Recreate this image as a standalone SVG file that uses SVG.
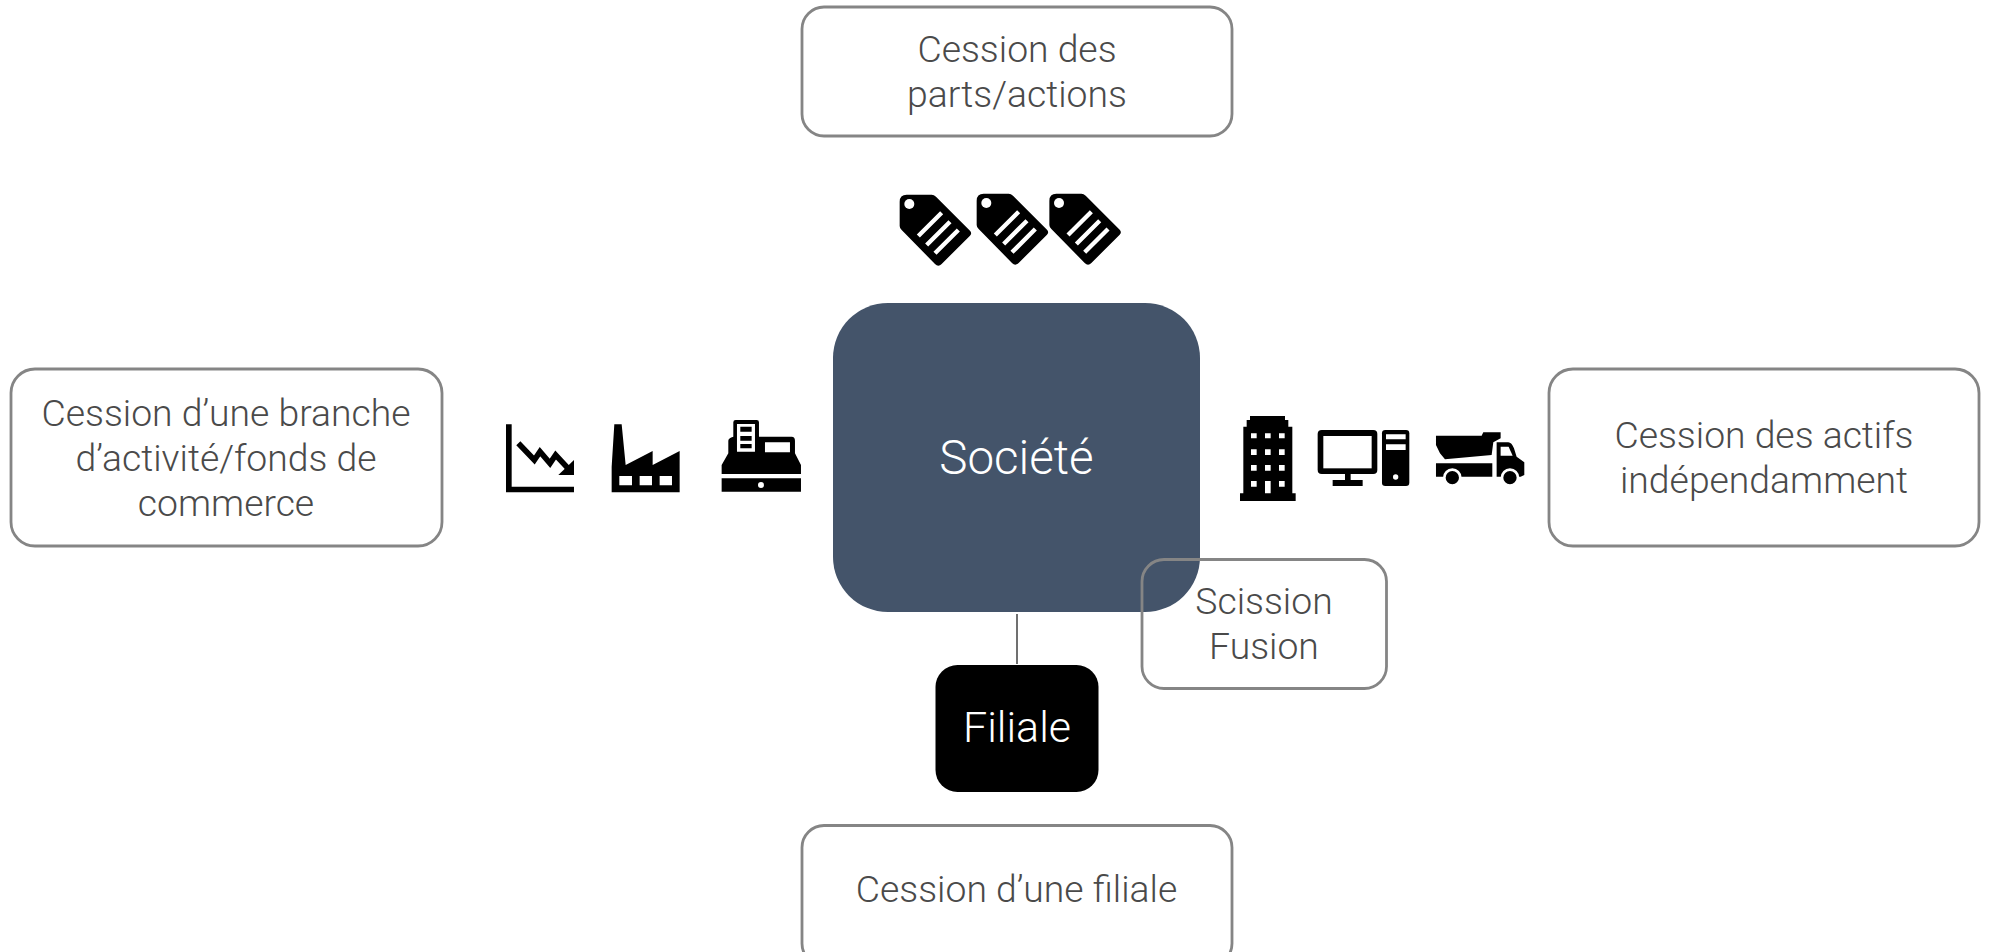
<svg xmlns="http://www.w3.org/2000/svg" width="1989" height="952" viewBox="0 0 1989 952">
<style>
text{font-family:Roboto,"Open Sans",sans-serif;font-weight:300;text-anchor:middle}
.b{fill:none;stroke:#858585;stroke-width:2.8}
.t{font-size:37.3px;fill:#4a4a4a}
.w{fill:#fff}
.k{fill:#000}
</style>
<defs>
<g id="tag"><path class="k" d="M80 44H155Q162 44 168 50L270 152Q277 160 270 167L185 252Q175 262 165 252L65 150Q59 145 59 138V65Q59 44 80 44Z"/><circle class="w" cx="88" cy="72" r="15"/><path d="M185 98L115 168M210 125L140 195M235 150L165 220" stroke="#fff" stroke-width="13" fill="none"/></g>
</defs>
<rect width="1989" height="952" fill="#fff"/>
<g id="connectors"><path d="M1017 614V664" stroke="#404040" stroke-width="1.5" fill="none"/></g>
<g id="societe"><rect x="833" y="303" width="367" height="309" rx="55" fill="#44546a"/><text x="1016.5" y="474" font-size="47.5" fill="#fff">Société</text></g>
<g id="top"><rect class="b" x="802" y="7" width="430" height="129" rx="22"/><text class="t" x="1017" y="62">Cession des</text><text class="t" x="1017" y="107">parts/actions</text></g>
<g id="left"><rect class="b" x="11" y="369" width="431" height="177" rx="24"/><text class="t" x="226" y="426">Cession d’une branche</text><text class="t" x="226" y="471">d’activité/fonds de</text><text class="t" x="226" y="516">commerce</text></g>
<g id="right"><rect class="b" x="1549" y="369" width="430" height="177" rx="24"/><text class="t" x="1764" y="448">Cession des actifs</text><text class="t" x="1764" y="493">indépendamment</text></g>
<g id="bottom"><rect class="b" x="802" y="825.5" width="430" height="140" rx="22"/><text class="t" x="1016.5" y="902">Cession d’une filiale</text></g>
<g id="scission"><rect class="b" x="1142" y="559.5" width="244.5" height="129" rx="22"/><text class="t" x="1264" y="614">Scission</text><text class="t" x="1264" y="659">Fusion</text></g>
<g id="filiale"><rect x="935.5" y="665" width="163" height="127" rx="22" class="k"/><text x="1017" y="742" font-size="43" fill="#fff">Filiale</text></g>
<g id="tags"><use href="#tag" transform="translate(880 180) scale(.3333)"/><use href="#tag" transform="translate(957 179) scale(.3333)"/><use href="#tag" transform="translate(1029.7 179) scale(.3333)"/></g>
<g id="icons-left" transform="translate(495 410) scale(.3333)">
<path class="k" d="M33 43H50V230H237V247H33Z"/>
<path d="M70 100L118 150L135 125L165 160L182 135L222 178" fill="none" stroke="#000" stroke-width="17"/>
<path class="k" d="M237 150V195H190Z"/>
<path class="k" d="M350 247V170L358 43H380L392 165L473 123V165L554 123V247Z"/>
<path class="w" d="M373 198H411V226H373ZM434 198H471V226H434ZM494 198H531V226H494Z"/>
<path class="k" d="M722 30H785Q792 30 792 37V80H890Q900 80 900 92V130L918 165V192H680V165L700 130V92Q700 84 715 80V37Q715 30 722 30Z"/>
<path class="w" d="M726 42H780V125H726ZM810 97H885V127H810Z"/>
<path class="k" d="M736 50H770V65H736ZM736 78H770V92H736ZM736 102H770V115H736ZM680 205H918V245H680Z"/>
<circle class="w" cx="798" cy="225" r="9"/>
</g>
<g id="icons-right" transform="translate(1230 405) scale(.3333)">
<path class="k" d="M30 288V265H40V65H50V45H60V33H165V45H175V65H187V265H197V288Z"/>
<path class="w" d="M63 85H80V100H63ZM105 85H122V100H105ZM147 85H164V100H147ZM63 133H80V150H63ZM105 133H122V150H105ZM147 133H164V150H147ZM63 180H80V197H63ZM105 180H122V197H105ZM147 180H164V197H147ZM63 228H80V245H63ZM105 228H122V265H105ZM147 228H164V245H147Z"/>
<rect x="263" y="75" width="179" height="132" rx="12" class="k"/>
<rect x="280" y="93" width="145" height="97" class="w"/>
<path class="k" d="M345 207H362V225H398V243H308V225H345Z"/>
<rect x="456" y="75" width="82" height="168" rx="10" class="k"/>
<path class="w" d="M468 88H527V103H468ZM468 118H527V135H468Z"/>
<circle class="w" cx="497" cy="216" r="8"/>
<path class="k" d="M618 92H755L760 82H812V100L790 112L785 150L645 163L630 145L618 120Z"/>
<path class="k" d="M618 175H787V215H618Z"/>
<path class="k" d="M800 112H835Q845 112 852 130L860 155L883 172V210L872 215H800Z"/>
<path class="w" d="M812 125H836L848 152H812Z"/>
<circle cx="667" cy="218" r="24" class="k" stroke="#fff" stroke-width="8"/>
<circle cx="840" cy="218" r="24" class="k" stroke="#fff" stroke-width="8"/>
</g>
</svg>
